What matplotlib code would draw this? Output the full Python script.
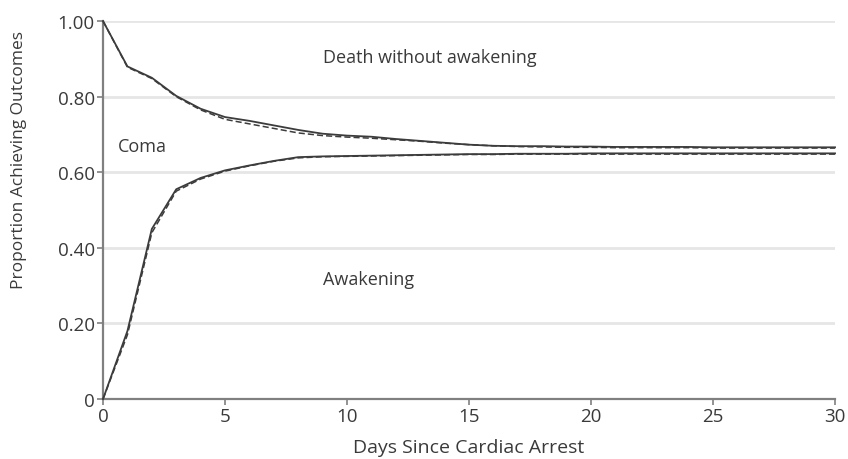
import matplotlib
matplotlib.use("Agg")
import matplotlib.pyplot as plt

# ── data ────────────────────────────────────────────────────────────────
days = list(range(0, 31))

death_observed = [1.000, 0.880, 0.850, 0.802, 0.768, 0.746, 0.736, 0.724, 0.712, 0.702,
                  0.697, 0.694, 0.688, 0.683, 0.678, 0.673, 0.670, 0.669, 0.669, 0.668,
                  0.668, 0.667, 0.667, 0.667, 0.667, 0.666, 0.666, 0.666, 0.666, 0.666,
                  0.666]
death_model = [1.000, 0.878, 0.848, 0.800, 0.765, 0.740, 0.728, 0.716, 0.704, 0.697,
               0.693, 0.690, 0.686, 0.682, 0.677, 0.673, 0.670, 0.668, 0.667, 0.666,
               0.666, 0.665, 0.665, 0.665, 0.665, 0.664, 0.664, 0.664, 0.664, 0.664,
               0.664]
awake_observed = [0.000, 0.180, 0.450, 0.555, 0.585, 0.605, 0.618, 0.630, 0.640, 0.642,
                  0.643, 0.644, 0.645, 0.646, 0.647, 0.648, 0.648, 0.649, 0.649, 0.649,
                  0.650, 0.650, 0.650, 0.650, 0.650, 0.650, 0.650, 0.650, 0.650, 0.650,
                  0.650]
awake_model = [0.000, 0.170, 0.440, 0.550, 0.582, 0.603, 0.617, 0.629, 0.638, 0.641,
               0.642, 0.643, 0.644, 0.645, 0.646, 0.647, 0.647, 0.648, 0.648, 0.648,
               0.648, 0.648, 0.648, 0.648, 0.648, 0.648, 0.648, 0.648, 0.648, 0.648,
               0.648]

x_ticks = [0, 5, 10, 15, 20, 25, 30]
y_ticks = [0, 0.2, 0.4, 0.6, 0.8, 1.0]
y_tick_labels = ["0", "0.20", "0.40", "0.60", "0.80", "1.00"]

plt.rcParams["font.family"] = ["Open Sans", "DejaVu Sans"]

fig = plt.figure(figsize=(8.48, 4.6), dpi=100)
ax = fig.add_axes([0.1215, 0.1304, 0.8632, 0.8216])

line_col = "#3c3c3c"
ax.plot(days, death_observed, color=line_col, lw=1.3, clip_on=False, zorder=3)
ax.plot(days, death_model, color=line_col, lw=1.1, ls=(0, (4, 2)), clip_on=False, zorder=3)
ax.plot(days, awake_observed, color=line_col, lw=1.3, clip_on=False, zorder=3)
ax.plot(days, awake_model, color=line_col, lw=1.1, ls=(0, (4, 2)), clip_on=False, zorder=3)

ax.set_xlim(0, 30)
ax.set_ylim(0, 1.0)
ax.set_xticks(x_ticks)
ax.set_yticks(y_ticks)
ax.set_yticklabels(y_tick_labels)

ax.yaxis.grid(True, color="#e6e6e6", lw=2)
ax.set_axisbelow(True)

for side in ("top", "right"):
    ax.spines[side].set_visible(False)
for side in ("left", "bottom"):
    ax.spines[side].set_color("#808080")
    ax.spines[side].set_linewidth(1.6)

ax.tick_params(axis="both", colors="#808080", length=4, width=1.2,
               labelsize=13.5, labelcolor="#3a3a3a", pad=2)

ax.text(13.4, 0.905, "Death without awakening", ha="center", va="center",
        fontsize=13, color="#3a3a3a")
ax.text(1.6, 0.67, "Coma", ha="center", va="center", fontsize=13, color="#3a3a3a")
ax.text(10.9, 0.318, "Awakening", ha="center", va="center", fontsize=13, color="#3a3a3a")

ax.set_xlabel("Days Since Cardiac Arrest", fontsize=14, color="#3a3a3a", labelpad=9)
ax.set_ylabel("Proportion Achieving Outcomes", fontsize=12.5, color="#3a3a3a")
ax.yaxis.set_label_coords(-0.104, 0.635)

fig.savefig("out.png", dpi=100)
